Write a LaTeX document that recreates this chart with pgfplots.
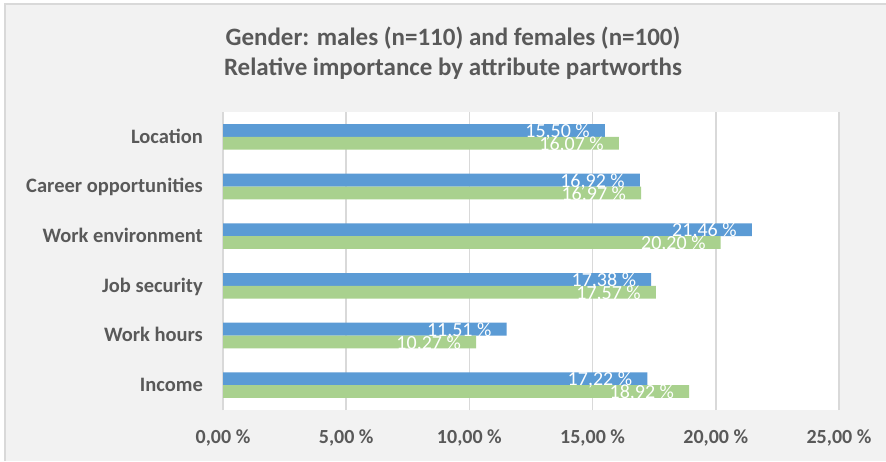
\documentclass[border=0pt]{standalone}
\usepackage{pgfplots}
\pgfplotsset{compat=1.18}
\usepackage{fontspec}
\setmainfont{Carlito}

\definecolor{malesblue}{HTML}{5B9BD5}
\definecolor{femalesgreen}{HTML}{A9D18E}
\definecolor{gridgray}{HTML}{D9D9D9}
\definecolor{panelgray}{HTML}{F2F2F2}
\definecolor{textgray}{HTML}{595959}

% Relative importance (%) per attribute; y = 0 is the bottom row
\pgfplotstableread{
y  males  females
0  17.22  18.92
1  11.51  10.27
2  17.38  17.57
3  21.46  20.20
4  16.92  16.97
5  15.50  16.07
}\importance

\begin{document}
\begin{tikzpicture}[x=1pt,y=1pt]
  \useasboundingbox (0,0) rectangle (886,461);
  % chart area with its frame
  \fill[white] (0,0) rectangle (886,461);
  \fill[panelgray] (5,0) rectangle (886,457);
  \draw[gridgray, line width=1.5pt] (5,0) -- (5,457) -- (886,457);

  % title
  \node[anchor=base, text=textgray, font=\bfseries\fontsize{25}{30}\selectfont]
    at (453,415) {Gender: males (n=110) and females (n=100)};
  \node[anchor=base, text=textgray, font=\bfseries\fontsize{25}{30}\selectfont]
    at (453,385) {Relative importance by attribute partworths};

  \begin{axis}[
    at={(223pt,51pt)}, anchor=south west,
    scale only axis, width=616pt, height=298pt,
    xbar, bar width=12.8pt,
    xmin=0, xmax=25, ymin=-0.5, ymax=5.5,
    axis line style={draw=none},
    axis background/.style={fill=white},
    xmajorgrids, grid style={gridgray, line width=1.5pt},
    major tick length=0pt,
    xtick={0,5,10,15,20,25},
    ytick={0,1,2,3,4,5},
    yticklabels={Income\hspace{4.5pt},Work hours\hspace{4.5pt},Job security,Work environment,Career opportunities\hspace{4.5pt},Location},
    /pgf/number format/assume math mode=true,
    xticklabel={\pgfmathprintnumber[fixed,fixed zerofill,precision=2,use comma]{\tick}~\%},
    xticklabel style={anchor=base, yshift=-33pt, text=textgray, font=\bfseries\fontsize{20}{24}\selectfont},
    yticklabel style={anchor=base east, inner sep=0pt, xshift=-20pt, yshift=-6.3pt, text=textgray, font=\bfseries\fontsize{20.5}{24}\selectfont},
    point meta=x,
    % value labels sit inside the bar end, 15pt from it
    nodes near coords={\raisebox{-7.2pt}{\pgfmathprintnumber[fixed,fixed zerofill,precision=2,use comma]{\pgfplotspointmeta}~\%\hspace{15pt}}},
    every node near coord/.append style={anchor=base east, inner sep=0pt, text=white, font=\fontsize{20}{24}\selectfont},
    clip=false,
  ]
    \addplot[draw=none, fill=malesblue, bar shift=6.4pt] table[x=males, y=y] {\importance};
    \addplot[draw=none, fill=femalesgreen, bar shift=-6.4pt] table[x=females, y=y] {\importance};
  \end{axis}
\end{tikzpicture}
\end{document}
